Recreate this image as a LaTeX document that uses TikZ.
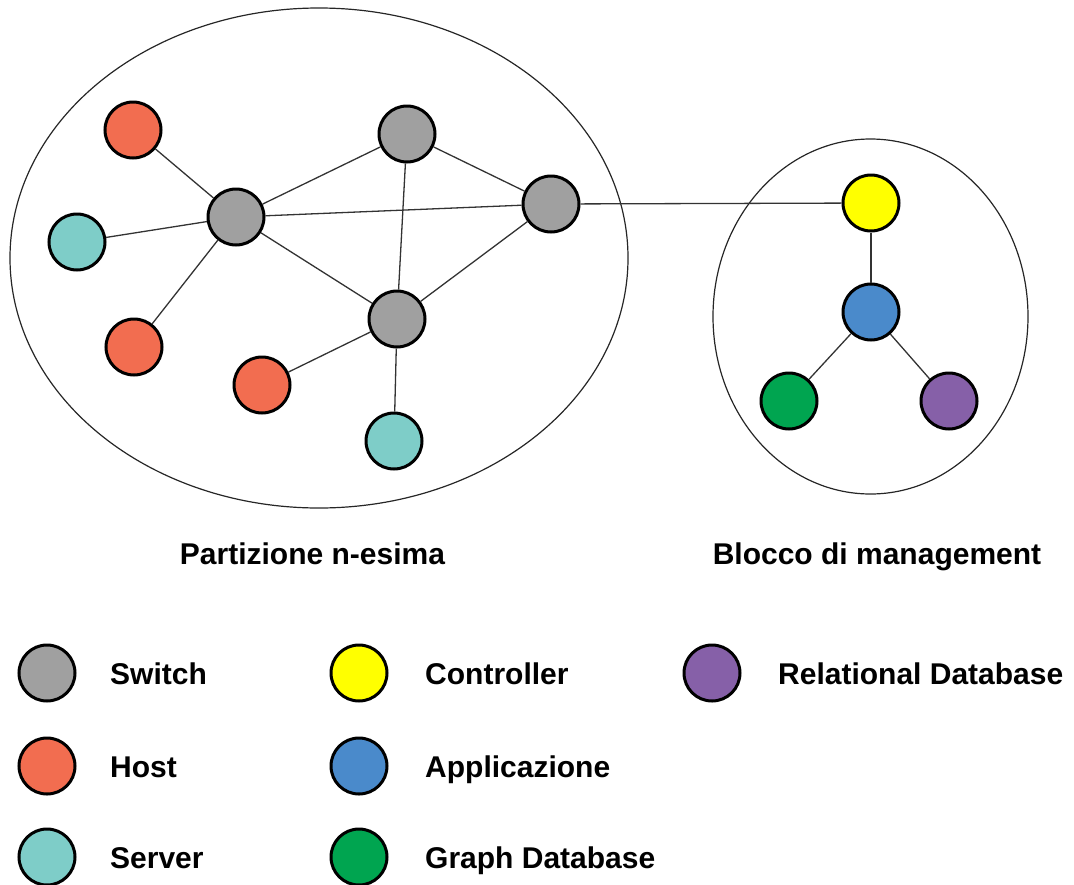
\documentclass[tikz,border=0pt]{standalone}
\usepackage{fontspec}
\setmainfont{Liberation Sans}
\definecolor{cswitch}{HTML}{A0A0A0}
\definecolor{chost}{HTML}{F26D50}
\definecolor{cserver}{HTML}{7ECDC8}
\definecolor{cctrl}{HTML}{FFFF00}
\definecolor{capp}{HTML}{4A8ACB}
\definecolor{cgdb}{HTML}{00A550}
\definecolor{crdb}{HTML}{8660A8}
\begin{document}
\begin{tikzpicture}[x=1pt,y=-1pt,
  dev/.style={circle,draw=black,line width=3pt,minimum size=56pt,inner sep=0pt},
  sw/.style={dev,fill=cswitch},
  ho/.style={dev,fill=chost},
  se/.style={dev,fill=cserver},
  ct/.style={dev,fill=cctrl},
  ap/.style={dev,fill=capp},
  gd/.style={dev,fill=cgdb},
  rd/.style={dev,fill=crdb},
  link/.style={draw=black!80,line width=1.3pt},
  lbl/.style={font=\fontsize{30}{36}\selectfont\bfseries,inner sep=0pt},
  region/.style={draw=black!85,line width=1.2pt}]
\useasboundingbox (0,0) rectangle (1074,884);
% regions
\draw[region] (319,258) ellipse [x radius=309, y radius=250];
\draw[region] (870.5,316.5) ellipse [x radius=157.5, y radius=177.5];
% nodes
\node[ho] (h1) at (133,130) {};
\node[se] (s1) at (77,242) {};
\node[sw] (A) at (236,217) {};
\node[sw] (B) at (407,134) {};
\node[sw] (C) at (551,204) {};
\node[sw] (D) at (397,319) {};
\node[ho] (h2) at (134,347) {};
\node[ho] (h3) at (262,385) {};
\node[se] (s2) at (394,441) {};
\node[ct] (ctrl) at (871,203) {};
\node[ap] (app) at (871,312) {};
\node[gd] (gdb) at (789,401) {};
\node[rd] (rdb) at (949,401) {};
% links
\draw[link] (h1) -- (A);
\draw[link] (s1) -- (A);
\draw[link] (h2) -- (A);
\draw[link] (A) -- (B);
\draw[link] (A) -- (C);
\draw[link] (A) -- (D);
\draw[link] (B) -- (C);
\draw[link] (B) -- (D);
\draw[link] (C) -- (D);
\draw[link] (D) -- (h3);
\draw[link] (D) -- (s2);
\draw[link] (C) -- (ctrl);
\draw[link] (ctrl) -- (app);
\draw[link] (app) -- (gdb);
\draw[link] (app) -- (rdb);
% titles
\node[lbl,anchor=base] (t1) at (312.5,564) {Partizione n-esima};
\node[lbl,anchor=base] (t2) at (877,564) {Blocco di management};
% legend
\node[sw] (l1) at (47,673) {};
\node[ho] (l2) at (47,766) {};
\node[se] (l3) at (47,857) {};
\node[ct] (l4) at (359,673) {};
\node[ap] (l5) at (359,766) {};
\node[gd] (l6) at (359,857) {};
\node[rd] (l7) at (712,673) {};
\node[lbl,anchor=base west] (k1) at (110,684) {Switch};
\node[lbl,anchor=base west] (k2) at (110,777) {Host};
\node[lbl,anchor=base west] (k3) at (110,868) {Server};
\node[lbl,anchor=base west] (k4) at (425,684) {Controller};
\node[lbl,anchor=base west] (k5) at (425,777) {Applicazione};
\node[lbl,anchor=base west] (k6) at (425,868) {Graph Database};
\node[lbl,anchor=base west] (k7) at (778,684) {Relational Database};
\end{tikzpicture}
\end{document}
